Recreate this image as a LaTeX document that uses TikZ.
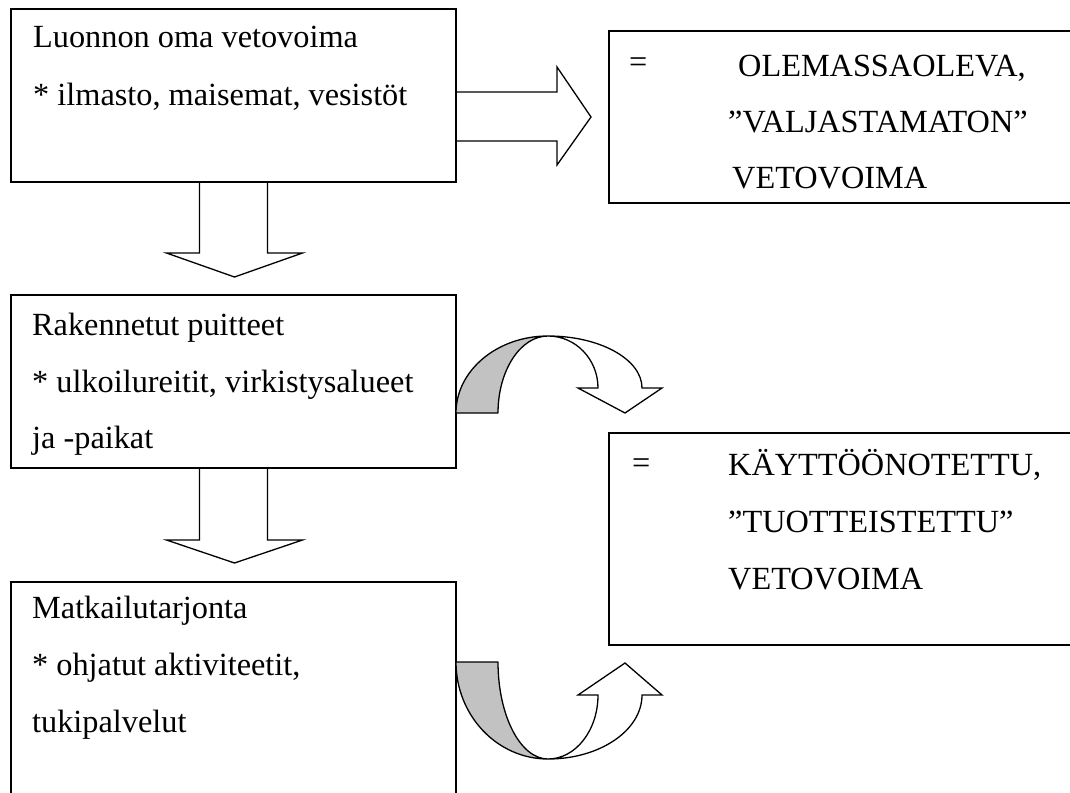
\documentclass[tikz,border=0pt]{standalone}
\usepackage{fontspec}
\setmainfont{Liberation Serif}
\usetikzlibrary{calc}
\begin{document}
\begin{tikzpicture}[x=1pt,y=-1pt,
  box/.style={draw, line width=1.3pt, anchor=north west, inner sep=0pt, outer sep=0pt},
  txt/.style={anchor=base west, inner sep=0pt, font=\fontsize{32.3}{38}\selectfont},
  blk/.style={draw, line width=1.3pt, line join=miter},
  band/.style={draw, line width=1.3pt, fill=black!24, line join=round},
  front/.style={draw, line width=1.3pt, fill=white, line join=miter},
]
\useasboundingbox (0,0) rectangle (1070,792);
\clip (0,0) rectangle (1070,792);
\fill[white] (0,0) rectangle (1070,792);

% boxes
\node[box, minimum width=445pt, minimum height=173pt] (b1) at (11,9) {};
\node[box, minimum width=445pt, minimum height=173pt] (b2) at (11,295) {};
\node[box, minimum width=445pt, minimum height=280pt] (b3) at (11,582) {};
\node[box, minimum width=500pt, minimum height=172pt] (r1) at (609,31) {};
\node[box, minimum width=500pt, minimum height=212pt] (r2) at (609,433) {};

% texts
\node[txt] (t11) at ($(b1.north west)+(22,39)$) {Luonnon oma vetovoima};
\node[txt] (t12) at ($(b1.north west)+(22,96)$) {* ilmasto, maisemat, vesistöt};
\node[txt] (t21) at ($(b2.north west)+(21,40)$) {Rakennetut puitteet};
\node[txt] (t22) at ($(b2.north west)+(21,97)$) {* ulkoilureitit, virkistysalueet};
\node[txt] (t23) at ($(b2.north west)+(21,153)$) {ja -paikat};
\node[txt] (t31) at ($(b3.north west)+(21,36)$) {Matkailutarjonta};
\node[txt] (t32) at ($(b3.north west)+(21,93)$) {* ohjatut aktiviteetit,};
\node[txt] (t33) at ($(b3.north west)+(21,150)$) {tukipalvelut};
\node[txt] (e1) at ($(r1.north west)+(20,41)$) {=};
\node[txt] (u11) at ($(r1.north west)+(129,45)$) {OLEMASSAOLEVA,};
\node[txt] (u12) at ($(r1.north west)+(119,101)$) {”VALJASTAMATON”};
\node[txt] (u13) at ($(r1.north west)+(123,157)$) {VETOVOIMA};
\node[txt] (e2) at ($(r2.north west)+(23,40)$) {=};
\node[txt] (u21) at ($(r2.north west)+(119,42)$) {KÄYTTÖÖNOTETTU,};
\node[txt] (u22) at ($(r2.north west)+(119,99)$) {”TUOTTEISTETTU”};
\node[txt] (u23) at ($(r2.north west)+(119,156)$) {VETOVOIMA};

% down arrow 1 : b1 -> b2
\coordinate (a1s) at (b1.south);
\coordinate (a1e) at (b2.north);
\draw[blk] ($(a1s)+(-34,0)$) -- ($(a1s)+(-34,71)$) -- ($(a1s)+(-67,71)$)
  -- ($(a1e)+(1,-18)$) -- ($(a1s)+(69,71)$) -- ($(a1s)+(34,71)$) -- ($(a1s)+(34,0)$);

% down arrow 2 : b2 -> b3
\coordinate (a2s) at (b2.south);
\coordinate (a2e) at (b3.north);
\draw[blk] ($(a2s)+(-34,0)$) -- ($(a2s)+(-34,72)$) -- ($(a2s)+(-67,72)$)
  -- ($(a2e)+(1,-19)$) -- ($(a2s)+(69,72)$) -- ($(a2s)+(34,72)$) -- ($(a2s)+(34,0)$);

% right arrow : b1 -> r1
\coordinate (ra) at (b1.east |- r1.west);
\draw[blk] ($(ra)+(0,-25)$) -- ($(ra)+(101,-25)$) -- ($(ra)+(101,-50)$)
  -- ($(r1.west)+(-18,0)$) -- ($(ra)+(101,48)$) -- ($(ra)+(101,24)$) -- ($(ra)+(0,24)$);

% curved arrow 1 : b2 -> r2
\coordinate (c1) at ($(b2.south east)+(92,-55)$);
\path[band] ($(c1)+(-92,0)$) arc[start angle=180, end angle=90, x radius=92pt, y radius=77pt]
  arc[start angle=90, end angle=180, x radius=50pt, y radius=77pt] -- cycle;
\path[front] ($(c1)+(0,-77)$) arc[start angle=90, end angle=0, x radius=94pt, y radius=52pt]
  -- ++(20,0) -- ($(c1)+(77,0)$) -- ($(c1)+(30,-25)$) -- ($(c1)+(50,-25)$)
  arc[start angle=0, end angle=90, x radius=50pt, y radius=52pt] -- cycle;

% curved arrow 2 : b3 -> r2
\coordinate (c2) at ($(b3.north east)+(92,80)$);
\path[band] ($(c2)+(-92,0)$) arc[start angle=180, end angle=270, x radius=92pt, y radius=97pt]
  arc[start angle=270, end angle=180, x radius=50pt, y radius=97pt] -- cycle;
\path[front] ($(c2)+(0,97)$) arc[start angle=270, end angle=360, x radius=94pt, y radius=64pt]
  -- ++(20,0) -- ($(c2)+(77,1)$) -- ($(c2)+(30,33)$) -- ($(c2)+(50,33)$)
  arc[start angle=0, end angle=-90, x radius=50pt, y radius=64pt] -- cycle;
\end{tikzpicture}
\end{document}
